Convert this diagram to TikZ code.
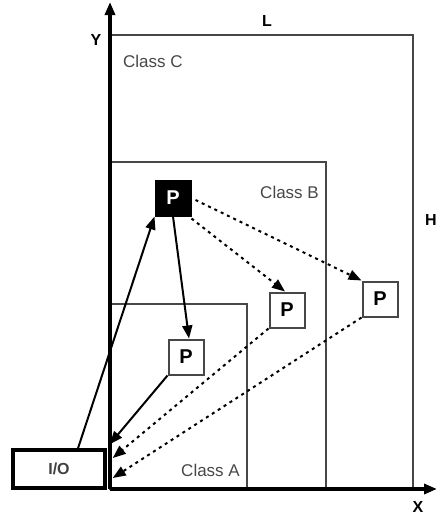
\documentclass[tikz,border=0pt]{standalone}
\usepackage{fontspec}
\setmainfont{Liberation Sans}
\usetikzlibrary{arrows.meta,calc}
\begin{document}
\begin{tikzpicture}[x=1pt,y=-1pt,
  classbox/.style={draw=black!72,line width=1.8pt},
  classlbl/.style={text=black!72,font=\fontsize{17}{20}\selectfont,inner sep=0pt},
  axlbl/.style={font=\bfseries\fontsize{16}{19}\selectfont,inner sep=0pt},
  pbox/.style={draw=black!72,line width=2pt,minimum size=35pt,inner sep=0pt,fill=white,font=\bfseries\fontsize{20}{22}\selectfont},
  conn/.style={line width=2pt,-{Triangle[length=13pt,width=10pt]}},
  dconn/.style={line width=2pt,dash pattern=on 3pt off 4pt,-{Triangle[length=13pt,width=10pt]}}]
\useasboundingbox (0,0) rectangle (437,517);
% class boxes
\draw[classbox] (110,489) rectangle (413,35);
\draw[classbox] (110,489) rectangle (326,162);
\draw[classbox] (110,489) rectangle (247,304);
\node[classlbl,anchor=west] (lc) at (123,61) {Class C};
\node[classlbl,anchor=east] (lb) at (319,192) {Class B};
\node[classlbl,anchor=east] (la) at (240,470) {Class A};
% axes
\coordinate (O) at (110,489);
\coordinate (ytip) at (110,2);
\coordinate (xtip) at (437,489);
\draw[line width=3.5pt,-{Triangle[length=13pt,width=10pt]}] (O) -- (ytip);
\draw[line width=3.5pt,-{Triangle[length=13pt,width=10pt]}] (O) -- (xtip);
\node[axlbl] (ly) at (96,40) {Y};
\node[axlbl] (lx) at (418,507) {X};
\node[axlbl] (ll) at (267,21) {L};
\node[axlbl] (lh) at (431,220) {H};
% nodes
\node[pbox,fill=black,text=white,draw=black] (bp) at (173,198) {P};
\node[pbox] (pa) at (186,357) {P};
\node[pbox] (mp) at (287,310) {P};
\node[pbox] (rp) at (380,299) {P};
\node[draw=black,line width=3.5pt,minimum width=92pt,minimum height=38pt,inner sep=0pt,font=\bfseries\fontsize{16}{19}\selectfont,text=black!75] (io) at (59,469) {I/O};
% connectors
\draw[conn] ([xshift=19pt]io.north) -- (bp.south west);
\draw[conn] (bp.south) -- ([xshift=3pt]pa.north);
\draw[conn] (pa.south west) -- ([xshift=3pt,yshift=4pt]io.north east);
\draw[dconn] ([yshift=-2pt]bp.south east) -- ([xshift=-2pt]mp.north);
\draw[dconn] ([yshift=-2pt,xshift=4pt]bp.east) -- (rp.north west);
\draw[dconn] (mp.south west) -- ([xshift=6pt,yshift=11pt]io.east);
\draw[dconn] (rp.south west) -- ([xshift=6pt,yshift=-9pt]io.east);
\end{tikzpicture}
\end{document}
